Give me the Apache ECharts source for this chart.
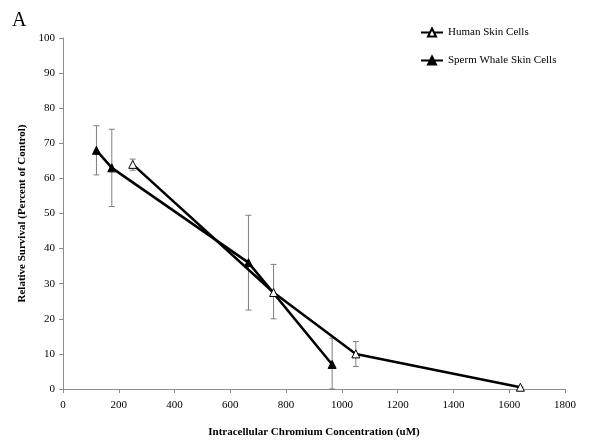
<!DOCTYPE html>
<html>
<head>
<meta charset="utf-8">
<script src="https://cdn.jsdelivr.net/npm/echarts@6/dist/echarts.min.js"></script>
<style>
  html, body { margin: 0; padding: 0; background: #fff; }
  #chart { width: 600px; height: 443px; }
</style>
</head>
<body>
<div id="chart"></div>
<script>
// values
var humanX = [250, 755, 1050, 1640];
var humanY = [64, 27.5, 10, 0.5];
var humanLow = [62.3, 20, 6.4, 0.5];
var humanHigh = [65.5, 35.5, 13.5, 0.5];

var whaleX = [120, 175, 665, 965];
var whaleY = [68, 63, 36, 7];
var whaleLow = [61, 52, 22.5, 0];
var whaleHigh = [75, 74, 49.5, 14.5];

var xTicks = [0, 1800, 200];
var yTicks = [0, 100, 10];

var font = 'Liberation Serif';
var axisGray = '#8c8c8c';

function pairs(xs, ys) {
    return xs.map(function (x, i) { return [x, ys[i]]; });
}
function bars(xs, lo, hi) {
    return xs.map(function (x, i) { return [x, lo[i], hi[i]]; });
}

function errorBar(params, api) {
    var x = api.value(0);
    var lo = api.coord([x, api.value(1)]);
    var hi = api.coord([x, api.value(2)]);
    var cap = 3;
    var style = { stroke: '#7f7f7f', lineWidth: 1 };
    return {
        type: 'group',
        children: [
            { type: 'line', shape: { x1: lo[0], y1: lo[1], x2: hi[0], y2: hi[1] }, style: style },
            { type: 'line', shape: { x1: lo[0] - cap, y1: lo[1], x2: lo[0] + cap, y2: lo[1] }, style: style },
            { type: 'line', shape: { x1: hi[0] - cap, y1: hi[1], x2: hi[0] + cap, y2: hi[1] }, style: style }
        ]
    };
}

var chart = echarts.init(document.getElementById('chart'));
var option = {
    animation: false,
    title: {
        text: 'A',
        left: 7,
        top: 6,
        textStyle: { fontFamily: font, fontSize: 20, fontWeight: 'normal', color: '#000' }
    },
    legend: {
        orient: 'vertical',
        left: 415,
        top: 22,
        itemGap: 17,
        itemWidth: 22,
        itemHeight: 10,
        textStyle: { fontFamily: font, fontSize: 11, color: '#000' },
        data: ['Human Skin Cells', 'Sperm Whale Skin Cells']
    },
    grid: { left: 63, right: 35, top: 38, bottom: 52 },
    xAxis: {
        type: 'value',
        min: xTicks[0],
        max: xTicks[1],
        interval: xTicks[2],
        name: 'Intracellular Chromium Concentration (uM)',
        nameLocation: 'middle',
        nameGap: 38,
        nameTextStyle: { fontFamily: font, fontSize: 11, fontWeight: 'bold', color: '#000' },
        axisLine: { lineStyle: { color: axisGray } },
        axisTick: { length: 4, lineStyle: { color: axisGray } },
        axisLabel: {
            fontFamily: font, fontSize: 11, color: '#000', margin: 11,
            formatter: function (v) { return String(v); }
        },
        splitLine: { show: false }
    },
    yAxis: {
        type: 'value',
        min: yTicks[0],
        max: yTicks[1],
        interval: yTicks[2],
        name: 'Relative Survival (Percent of Control)',
        nameLocation: 'middle',
        nameGap: 35,
        nameTextStyle: { fontFamily: font, fontSize: 11, fontWeight: 'bold', color: '#000' },
        axisLine: { show: true, lineStyle: { color: axisGray } },
        axisTick: { show: true, length: 4, lineStyle: { color: axisGray } },
        axisLabel: { fontFamily: font, fontSize: 11, color: '#000', margin: 8 },
        splitLine: { show: false }
    },
    series: [
        {
            type: 'custom',
            renderItem: errorBar,
            encode: { x: 0, y: [1, 2] },
            data: bars(humanX, humanLow, humanHigh),
            z: 1
        },
        {
            type: 'custom',
            renderItem: errorBar,
            encode: { x: 0, y: [1, 2] },
            data: bars(whaleX, whaleLow, whaleHigh),
            z: 1
        },
        {
            name: 'Human Skin Cells',
            type: 'line',
            data: pairs(humanX, humanY),
            symbol: 'triangle',
            symbolSize: 8,
            showAllSymbol: true,
            clip: false,
            lineStyle: { color: '#000', width: 2.5 },
            itemStyle: { color: '#fff', borderColor: '#000', borderWidth: 1 },
            z: 3
        },
        {
            name: 'Sperm Whale Skin Cells',
            type: 'line',
            data: pairs(whaleX, whaleY),
            symbol: 'triangle',
            symbolSize: 8,
            showAllSymbol: true,
            clip: false,
            lineStyle: { color: '#000', width: 2.5 },
            itemStyle: { color: '#000', borderColor: '#000', borderWidth: 1 },
            z: 3
        }
    ]
};
chart.setOption(option);
</script>
</body>
</html>
